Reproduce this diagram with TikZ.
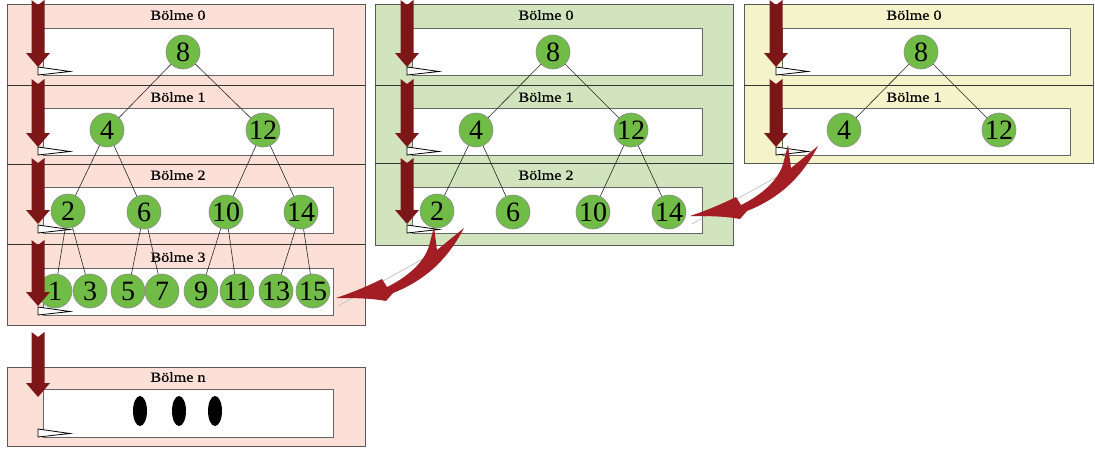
\documentclass[tikz,border=0pt]{standalone}
\usepackage{fontspec}
\setmainfont{Liberation Serif}
\newfontfamily\lblfont[FakeStretch=1.15,FakeBold=0.6]{Liberation Serif}
\usetikzlibrary{shapes.geometric}
\definecolor{pinkbg}{RGB}{252,224,216}
\definecolor{greenbg}{RGB}{209,228,190}
\definecolor{yellowbg}{RGB}{244,243,202}
\definecolor{nodegreen}{RGB}{112,188,70}
\definecolor{darkred}{RGB}{125,23,23}
\definecolor{curvred}{RGB}{163,29,36}

% down arrow with notched tail: x, y of tail, y of tip
\newcommand\DownArr[3]{%
  \fill[darkred] (#1-6.5,#2) -- (#1,#2+5) -- (#1+6.5,#2) -- (#1+6.5,#3-14)
    -- (#1+12,#3-14) -- (#1,#3) -- (#1-12,#3-14) -- (#1-6.5,#3-14) -- cycle;}
% small pointer wedge at the bottom-left corner of a slot: x, bottom y
\newcommand\Wedge[2]{%
  \filldraw[fill=white, draw=black, line width=0.8pt]
    (#1,#2-8) -- (#1+32,#2-3.5) -- (#1,#2) -- cycle;}

\tikzset{
  sec/.style={draw=black!65, line width=0.8pt},
  sepline/.style={draw=black!80, line width=1pt},
  slot/.style={fill=white, draw=black!60, line width=0.8pt},
  lbl/.style={font=\lblfont\fontsize{14}{14}\selectfont, inner sep=0pt},
  num/.style={circle, fill=nodegreen, draw=black!45, line width=0.6pt,
    minimum size=34pt, inner sep=0pt, font=\fontsize{28}{28}\selectfont},
  edge/.style={draw=black!85, line width=0.6pt},
  blob/.style={ellipse, fill=black, minimum width=14pt, minimum height=30pt, inner sep=0pt},
  % curved arrow with forked tail; origin is the arrow tip
  curvarrow/.pic={
    \draw[gray!55, line width=0.6pt] (110,-52) -- (2,8);
    \fill[curvred] (0,0) .. controls (18,-6) and (34,-13) .. (46,-19)
      -- (51,-11)
      .. controls (70,-20) and (88,-35) .. (93,-52)
      -- (98,-71) -- (101,-48) -- (128,-70)
      .. controls (115,-45) and (95,-20) .. (57,-5)
      -- (50,3) .. controls (34,0) and (16,0) .. (0,0) -- cycle;
  }
}

\begin{document}
\begin{tikzpicture}[x=1pt,y=-1pt]
\useasboundingbox (0,0) rectangle (1095,450);

% ---- panel backgrounds and section separators
\draw[sec, fill=pinkbg] (7,4) rectangle (365,325);
\draw[sepline] (7,85) -- (365,85) (7,164) -- (365,164) (7,244) -- (365,244);
\draw[sec, fill=pinkbg] (7,367) rectangle (365,446);
\draw[sec, fill=greenbg] (375,4) rectangle (733,245);
\draw[sepline] (375,85) -- (733,85) (375,163) -- (733,163);
\draw[sec, fill=yellowbg] (744,4) rectangle (1093,163);
\draw[sepline] (744,85) -- (1093,85);

% ---- slots
\foreach \t/\b in {28/75,108/155,187/233,268/315,389/437}
  {\draw[slot] (43,\t) rectangle (333,\b);}
\foreach \t/\b in {28/75,108/155,187/233}
  {\draw[slot] (412,\t) rectangle (702,\b);}
\foreach \t/\b in {28/75,108/155}
  {\draw[slot] (782,\t) rectangle (1070,\b);}

% ---- section titles
\node[lbl] (l10) at (178,15) {Bölme 0};
\node[lbl] (l11) at (178,97) {Bölme 1};
\node[lbl] (l12) at (178,175) {Bölme 2};
\node[lbl] (l13) at (178,257) {Bölme 3};
\node[lbl] (l1n) at (178,377) {Bölme n};
\node[lbl] (l20) at (546,15) {Bölme 0};
\node[lbl] (l21) at (546,97) {Bölme 1};
\node[lbl] (l22) at (546,175) {Bölme 2};
\node[lbl] (l30) at (914,15) {Bölme 0};
\node[lbl] (l31) at (914,97) {Bölme 1};

% ---- tree nodes, first panel
\node[num] (a8)  at (183,52) {8};
\node[num] (a4)  at (107,130) {4};
\node[num] (a12) at (263,130) {12};
\node[num] (a2)  at (68,211) {2};
\node[num] (a6)  at (144,212) {6};
\node[num] (a10) at (226,212) {10};
\node[num] (a14) at (301,212) {14};
\node[num] (a1)  at (55,291) {1};
\node[num] (a3)  at (90,291) {3};
\node[num] (a5)  at (128,291) {5};
\node[num] (a7)  at (162,291) {7};
\node[num] (a9)  at (201,291) {9};
\node[num] (a11) at (237,291) {11};
\node[num] (a13) at (276,291) {13};
\node[num] (a15) at (313,291) {15};

% ---- tree nodes, second panel
\node[num] (b8)  at (553,52) {8};
\node[num] (b4)  at (476,130) {4};
\node[num] (b12) at (631,130) {12};
\node[num] (b2)  at (437,211) {2};
\node[num] (b6)  at (513,212) {6};
\node[num] (b10) at (593,212) {10};
\node[num] (b14) at (669,212) {14};

% ---- tree nodes, third panel
\node[num] (c8)  at (921,52) {8};
\node[num] (c4)  at (844,130) {4};
\node[num] (c12) at (999,130) {12};

% ---- tree edges
\foreach \p/\c in {a8/a4,a8/a12,a4/a2,a4/a6,a12/a10,a12/a14,
                   a2/a1,a2/a3,a6/a5,a6/a7,a10/a9,a10/a11,a14/a13,a14/a15,
                   b8/b4,b8/b12,b4/b2,b4/b6,b12/b10,b12/b14,
                   c8/c4,c8/c12}
  {\draw[edge] (\p) -- (\c);}

% ---- ellipsis in the last section
\node[blob] (d1) at (140,411) {};
\node[blob] (d2) at (179,411) {};
\node[blob] (d3) at (215,411) {};

% ---- downward walk arrows and slot pointers
\foreach \s/\e in {0/67,79/147,158/224,240/306,332/397} {\DownArr{38}{\s}{\e}}
\foreach \s/\e in {0/67,79/147,158/224} {\DownArr{407}{\s}{\e}}
\foreach \s/\e in {0/67,79/147} {\DownArr{776}{\s}{\e}}
\foreach \b in {75,155,233,315,437} {\Wedge{38}{\b}}
\foreach \b in {75,155,233} {\Wedge{407}{\b}}
\foreach \b in {75,155} {\Wedge{776}{\b}}

% ---- curved hand-over arrows
\pic at (690,216) {curvarrow};
\pic at (336,298) {curvarrow};
\end{tikzpicture}
\end{document}
